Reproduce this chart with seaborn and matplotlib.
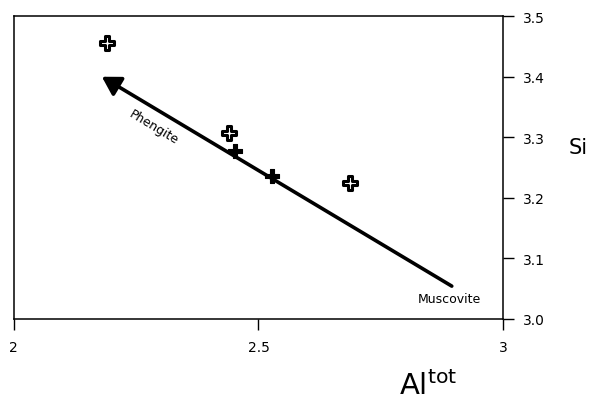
import pandas as pd
import matplotlib
matplotlib.use('Agg')
import matplotlib.pyplot as plt
import seaborn as sns

# Al(tot) vs Si (phengite substitution)
al_tot = [2.19, 2.44, 2.452, 2.527, 2.687]
si = [3.455, 3.307, 3.278, 3.236, 3.225]
hollow = [True, True, False, False, True]

# phengite / muscovite vector
vec_al = [2.895, 2.18]
vec_si = [3.054, 3.40]

df = pd.DataFrame({'Al': al_tot, 'Si': si, 'hollow': hollow})

sns.set_style('ticks')
plt.rcParams['font.family'] = ['DejaVu Sans']
plt.rcParams['text.color'] = 'black'
plt.rcParams['xtick.color'] = 'black'
plt.rcParams['ytick.color'] = 'black'

fig = plt.figure(figsize=(5.99, 4.10), dpi=100)
ax = fig.add_axes([0.023, 0.22, 0.817, 0.738])

sns.scatterplot(data=df[~df.hollow], x='Al', y='Si', marker='P', s=105,
                color='black', edgecolor='black', linewidth=0.8, ax=ax)
sns.scatterplot(data=df[df.hollow], x='Al', y='Si', marker='P', s=105,
                color='white', edgecolor='black', linewidth=2.2, ax=ax)

ax.annotate('', xy=(vec_al[1], vec_si[1]), xytext=(vec_al[0], vec_si[0]),
            arrowprops=dict(arrowstyle='-|>,head_length=1.1,head_width=0.65',
                            lw=2.6, color='black', shrinkA=0, shrinkB=0))

ax.text(2.285, 3.318, 'Phengite', rotation=-31, fontsize=9,
        ha='center', va='center')
ax.text(2.89, 3.033, 'Muscovite', fontsize=9, ha='center', va='center')

ax.set_xlim(2, 3)
ax.set_ylim(3.0, 3.5)
ax.set_xticks([2, 2.5, 3])
ax.set_xticklabels(['2', '2.5', '3'])
ax.set_yticks([3.0, 3.1, 3.2, 3.3, 3.4, 3.5])
ax.set_yticklabels(['3.0', '3.1', '3.2', '3.3', '3.4', '3.5'])
ax.yaxis.tick_right()
ax.tick_params(axis='both', direction='out', length=8, width=1,
               labelsize=10, color='black', labelcolor='black')
ax.tick_params(axis='x', pad=7)
ax.tick_params(axis='y', pad=6)
for sp in ax.spines.values():
    sp.set_visible(True)
    sp.set_linewidth(1.1)
    sp.set_color('black')

ax.set_xlabel('')
ax.set_ylabel('')
fig.text(0.965, 0.64, 'Si', fontsize=15, ha='center', va='center')
fig.text(0.715, 0.058, r'Al$^{\mathrm{tot}}$', fontsize=21, ha='center',
         va='center')

fig.savefig('out.png', dpi=100)
